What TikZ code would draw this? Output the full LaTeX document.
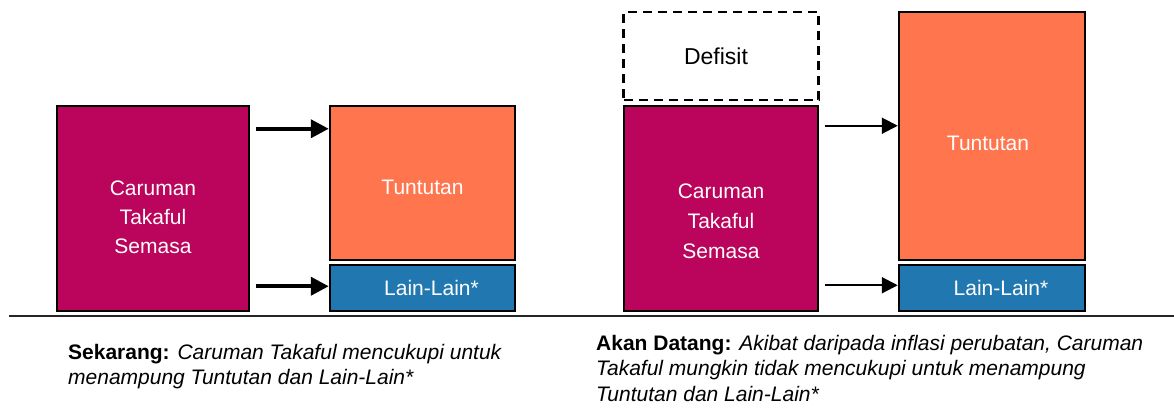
\documentclass[tikz,border=0pt]{standalone}
\usepackage{fontspec}
\setmainfont{Liberation Sans}
\usetikzlibrary{arrows.meta,positioning}
\definecolor{carumanC}{RGB}{187,4,91}
\definecolor{tuntutanC}{RGB}{255,117,77}
\definecolor{lainC}{RGB}{33,120,176}
\tikzset{fund/.style={rectangle,draw=black,fill=carumanC,line width=2.5pt,minimum width=192pt,minimum height=205pt}}
\tikzset{claim/.style={rectangle,draw=black,fill=tuntutanC,line width=2.5pt,minimum width=185pt,text=white,font=\fontsize{21}{29}\selectfont}}
\tikzset{other/.style={rectangle,draw=black,fill=lainC,line width=2.5pt,minimum width=185pt,minimum height=46pt,text=white,font=\fontsize{21}{29}\selectfont}}
\tikzset{shortfall/.style={rectangle,draw=black,dash pattern=on 9pt off 6pt,line width=2.5pt,minimum width=195pt,minimum height=88pt,font=\fontsize{23}{29}\selectfont}}
\tikzset{boxtxt/.style={text=white,align=center,font=\fontsize{21}{29}\selectfont}}
\tikzset{note/.style={anchor=north west,inner sep=0pt,align=left,font=\fontsize{21}{25}\selectfont}}
\tikzset{fatArrow/.style={-{Triangle[length=18pt,width=18pt]},line width=4pt}}
\tikzset{thinArrow/.style={-{Triangle[length=16pt,width=16pt]},line width=2pt}}

\begin{document}
\begin{tikzpicture}[x=1pt,y=-1pt]
\useasboundingbox (0,0) rectangle (1174,410);
% sekarang
\begin{scope}[node distance=2.5pt]
	\node (carA) [fund] at (153,208.5) {};
	\node (carAtxt) [boxtxt] at ([yshift=-9pt]carA.center) {Caruman\\Takaful\\Semasa};
	\node (tunA) [claim,minimum height=154pt] at (422.5,183) {\raisebox{-4pt}[\height][\depth]{Tuntutan}};
	\node (lainA) [other, below =of tunA] {\hspace*{18pt}Lain-Lain*};
	\coordinate (arA1) at ([xshift=6pt,yshift=-24pt]carA.north east);
	\coordinate (arA2) at ([xshift=6pt,yshift=26pt]carA.south east);
	\draw [fatArrow] (arA1) -- (arA1 -| tunA.west);
	\draw [fatArrow] (arA2) -- (arA2 -| lainA.west);
\end{scope}
% akan datang
\begin{scope}[node distance=3.5pt]
	\node (carB) [fund,minimum width=194pt] at (721,208.5) {};
	\node (carBtxt) [boxtxt] at ([yshift=-13pt]carB.center) {Caruman\\[1pt]Takaful\\[1pt]Semasa};
	\node (defB) [shortfall, above =of carB] {\hspace*{-10pt}Defisit};
	\node (tunB) [claim,minimum width=186pt,minimum height=248pt] at (992,136) {\raisebox{-7pt}[\height][\depth]{Tuntutan\hspace*{8pt}}};
	\node (lainB) [other,minimum width=186pt, below =2.5pt of tunB] {\hspace*{18pt}Lain-Lain*};
	\coordinate (arB1) at ([xshift=6pt,yshift=-21pt]carB.north east);
	\coordinate (arB2) at ([xshift=6pt,yshift=27pt]carB.south east);
	\draw [thinArrow] (arB1) -- (arB1 -| tunB.west);
	\draw [thinArrow] (arB2) -- (arB2 -| lainB.west);
\end{scope}
\draw [line width=1.5pt,black!85] (9,316) -- (1174,316);
\node (nowTxt) [note] at (68,344) {\textbf{Sekarang:} \textit{Caruman Takaful mencukupi untuk}\\\textit{menampung Tuntutan dan Lain-Lain*}};
\node (laterTxt) [note,font=\fontsize{21}{25.5}\selectfont] at (596,335) {\textbf{Akan Datang:} \textit{Akibat daripada inflasi perubatan, Caruman}\\\textit{Takaful mungkin tidak mencukupi untuk menampung}\\\textit{Tuntutan dan Lain-Lain*}};
\end{tikzpicture}
\end{document}
